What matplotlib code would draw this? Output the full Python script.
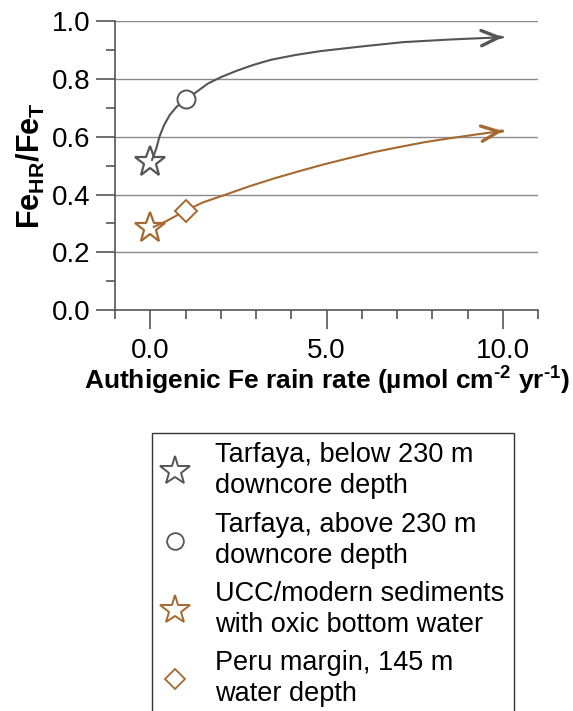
import matplotlib
matplotlib.use('Agg')
import matplotlib.pyplot as plt
from matplotlib.lines import Line2D

plt.rcParams['font.family'] = ['Liberation Sans', 'DejaVu Sans']
plt.rcParams['mathtext.fontset'] = 'custom'
plt.rcParams['mathtext.rm'] = 'Liberation Sans:bold'
plt.rcParams['mathtext.bf'] = 'Liberation Sans:bold'
plt.rcParams['mathtext.it'] = 'Liberation Sans:bold'

GRIS = '#555555'
MARRON = '#a5692f'

# curva Tarfaya
tarf_x = [0.05, 0.17, 0.26, 0.39, 0.55, 0.74, 1.0, 1.25, 1.63, 2.01, 2.48, 2.95, 3.43,
          4.1, 4.84, 6.0, 7.18, 8.5, 10.0]
tarf_y = [0.52, 0.559, 0.600, 0.640, 0.675, 0.703, 0.730, 0.750, 0.784, 0.807, 0.830, 0.850, 0.867,
          0.883, 0.897, 0.913, 0.928, 0.937, 0.945]

# curva UCC / Peru
ucc_x = [0.1, 0.41, 1.0, 1.5, 2.1, 2.8, 3.52, 4.2, 4.94, 5.6, 6.35, 7.0, 7.77, 8.5, 9.19, 9.6, 10.0]
ucc_y = [0.288, 0.305, 0.344, 0.373, 0.398, 0.428, 0.456, 0.480, 0.505, 0.525, 0.547, 0.563, 0.581,
         0.595, 0.607, 0.614, 0.620]

# puntos medidos
star_gris = (0.0, 0.513)
circulo = (1.0, 0.73)
star_marron = (0.0, 0.283)
diamante = (1.0, 0.344)

etiquetas = ['Tarfaya, below 230 m\ndowncore depth',
             'Tarfaya, above 230 m\ndowncore depth',
             'UCC/modern sediments\nwith oxic bottom water',
             'Peru margin, 145 m\nwater depth']

fig = plt.figure(figsize=(5.73, 7.11), dpi=100)
ax = fig.add_axes([0.2007, 0.564, 0.7383, 0.406])

ax.set_xlim(-1, 11)
ax.set_ylim(0, 1.0)

for v in [0.2, 0.4, 0.6, 0.8, 1.0]:
    ax.axhline(v, color='#8a8a8a', lw=1.0, zorder=1)

# marcadores estrella debajo de las lineas
ax.plot(*star_gris, marker='*', ms=23, mfc='white', mec=GRIS, mew=1.6, ls='none', zorder=3)
ax.plot(*star_marron, marker='*', ms=23, mfc='white', mec=MARRON, mew=1.6, ls='none', zorder=3)

ax.plot(tarf_x, tarf_y, color=GRIS, lw=1.5, zorder=4)
ax.plot(ucc_x, ucc_y, color=MARRON, lw=1.5, zorder=4)


def punta(xs, ys, color):
    # cabeza de flecha al final de la curva
    x0 = xs[-1] - 0.05 * (xs[-1] - xs[-2])
    y0 = ys[-1] - 0.05 * (ys[-1] - ys[-2])
    ax.annotate('', xy=(xs[-1], ys[-1]), xytext=(x0, y0),
                arrowprops=dict(arrowstyle='->,head_length=1.25,head_width=0.55', color=color,
                                lw=2.4, shrinkA=0, shrinkB=0, mutation_scale=10), zorder=4)


punta(tarf_x, tarf_y, GRIS)
punta(ucc_x, ucc_y, MARRON)

ax.plot(*circulo, marker='o', ms=13, mfc='white', mec=GRIS, mew=1.4, ls='none', zorder=5)
ax.plot(*diamante, marker='D', ms=11, mfc='white', mec=MARRON, mew=1.4, ls='none', zorder=5)

# ejes
for s in ['top', 'right']:
    ax.spines[s].set_visible(False)
for s in ['left', 'bottom']:
    ax.spines[s].set_color(GRIS)
    ax.spines[s].set_linewidth(1.2)

ax.set_xticks([0, 5, 10])
ax.set_xticklabels(['0.0', '5.0', '10.0'])
ax.set_xticks(range(-1, 12), minor=True)
ax.set_yticks([0, 0.2, 0.4, 0.6, 0.8, 1.0])
ax.set_yticklabels(['0.0', '0.2', '0.4', '0.6', '0.8', '1.0'])
ax.set_yticks([0.1, 0.3, 0.5, 0.7, 0.9], minor=True)
ax.tick_params(which='major', length=14, width=1.2, color=GRIS, labelsize=20, pad=4)
ax.tick_params(which='minor', length=6.5, width=1.2, color=GRIS)
ax.tick_params(axis='x', which='major', pad=6)

ax.set_xlabel(r'Authigenic Fe rain rate (µmol cm$^{\text{-2}}$ yr$^{\text{-1}}$)', fontsize=19,
              fontweight='bold', labelpad=1)
ax.set_ylabel(r'Fe$_{\text{HR}}$/Fe$_{\text{T}}$', fontsize=22, fontweight='bold', labelpad=3)

manejadores = [
    Line2D([], [], marker='*', ms=22, mfc='white', mec=GRIS, mew=1.4, ls='none'),
    Line2D([], [], marker='o', ms=12, mfc='white', mec=GRIS, mew=1.3, ls='none'),
    Line2D([], [], marker='*', ms=22, mfc='white', mec=MARRON, mew=1.4, ls='none'),
    Line2D([], [], marker='D', ms=10, mfc='white', mec=MARRON, mew=1.3, ls='none'),
]
leg = fig.legend(manejadores, etiquetas, loc='upper left', bbox_to_anchor=(0.265, 0.391),
                 fontsize=19.5, frameon=True, fancybox=False, edgecolor='black',
                 handlelength=1.0, handletextpad=1.0, labelspacing=0.45, borderpad=0.35,
                 borderaxespad=0)
leg.get_frame().set_linewidth(1.0)
for t in leg.get_texts():
    t.set_linespacing(1.25)

fig.savefig('out.png', dpi=100)
